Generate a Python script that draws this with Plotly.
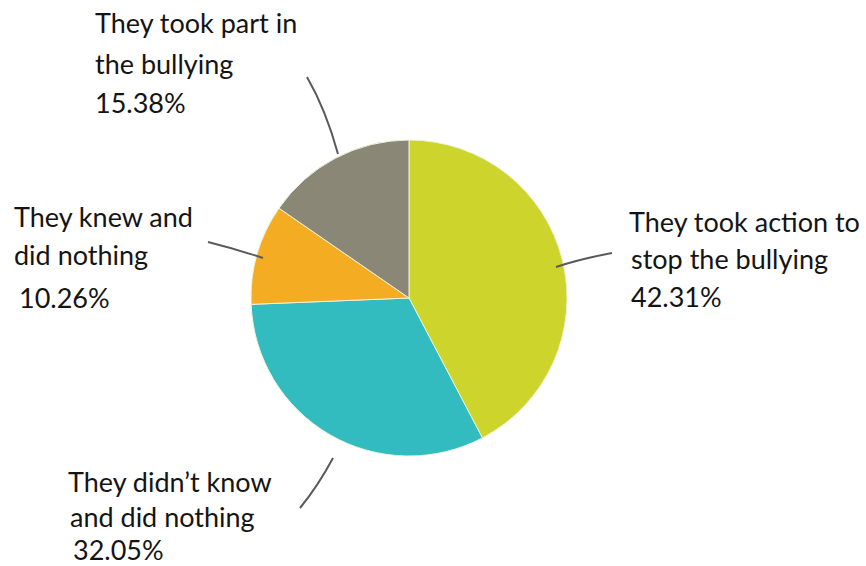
import plotly.graph_objects as go

# Survey answers, in drawing order (clockwise from 12 o'clock)
categories = [
    "They took action to stop the bullying",
    "They didn't know and did nothing",
    "They knew and did nothing",
    "They took part in the bullying",
]
shares = [42.31, 32.05, 10.26, 15.38]
slice_colors = ["#CDD42B", "#33BCC0", "#F4AC22", "#8A8777"]

# Label text, split into the lines as they are set beside the pie
label_lines = [
    ["They took action to", "stop the bullying"],
    ["They didn\u2019t know", "and did nothing"],
    ["They knew and", "did nothing"],
    ["They took part in", "the bullying"],
]

W, H = 866, 566


def px(x):
    return x / W


def py(y):
    return 1 - y / H


# Pie geometry (pixels)
cx, cy, r = 409, 298, 158

fig = go.Figure(
    go.Pie(
        labels=categories,
        values=shares,
        sort=False,
        direction="clockwise",
        rotation=0,
        marker=dict(colors=slice_colors, line=dict(color="#EEF2D8", width=1)),
        textinfo="none",
        hoverinfo="label+percent",
        domain=dict(x=[px(cx - r), px(cx + r)], y=[py(cy + r), py(cy - r)]),
    )
)

# Text block placement: left edge and baselines of each line (pixels)
blocks = [
    (628, [230, 267, 305], [0, 2, 2]),   # took action
    (67, [491, 525, 558], [0, 2, 5]),    # didn't know
    (13, [225, 263, 306], [0, 0, 5]),    # knew and did nothing
    (94, [32, 72, 112], [0, 0, 0]),      # took part
]

FONT = dict(family="Lato, 'Open Sans', sans-serif", size=27, color="#141414")
annotations = []
for lines, share, (x0, baselines, indents) in zip(label_lines, shares, blocks):
    texts = lines + [f"{share:.2f}%"]
    for t, b, ind in zip(texts, baselines, indents):
        annotations.append(
            dict(
                text=t,
                x=px(x0 + ind),
                y=py(b - 9),
                xref="paper",
                yref="paper",
                xanchor="left",
                yanchor="middle",
                showarrow=False,
                borderpad=0,
                font=FONT,
            )
        )

# Leader lines from the slices to their labels (pixel paths)
leaders = [
    [(556, 267), (580, 259), (612, 253)],
    [(333, 458), (318, 486), (300, 508)],
    [(263, 258), (236, 249), (208, 242)],
    [(338, 154), (326, 110), (307, 77)],
]
shapes = []
for pts in leaders:
    (x0, y0), (x1, y1), (x2, y2) = pts
    path = (
        f"M {px(x0)},{py(y0)} Q {px(x1)},{py(y1)} {px(x2)},{py(y2)}"
    )
    shapes.append(
        dict(
            type="path",
            path=path,
            xref="paper",
            yref="paper",
            line=dict(color="#5A5A5A", width=2),
        )
    )

fig.update_layout(
    width=W,
    height=H,
    margin=dict(l=0, r=0, t=0, b=0),
    paper_bgcolor="white",
    plot_bgcolor="white",
    showlegend=False,
    annotations=annotations,
    shapes=shapes,
)

fig.write_html("out.html")
